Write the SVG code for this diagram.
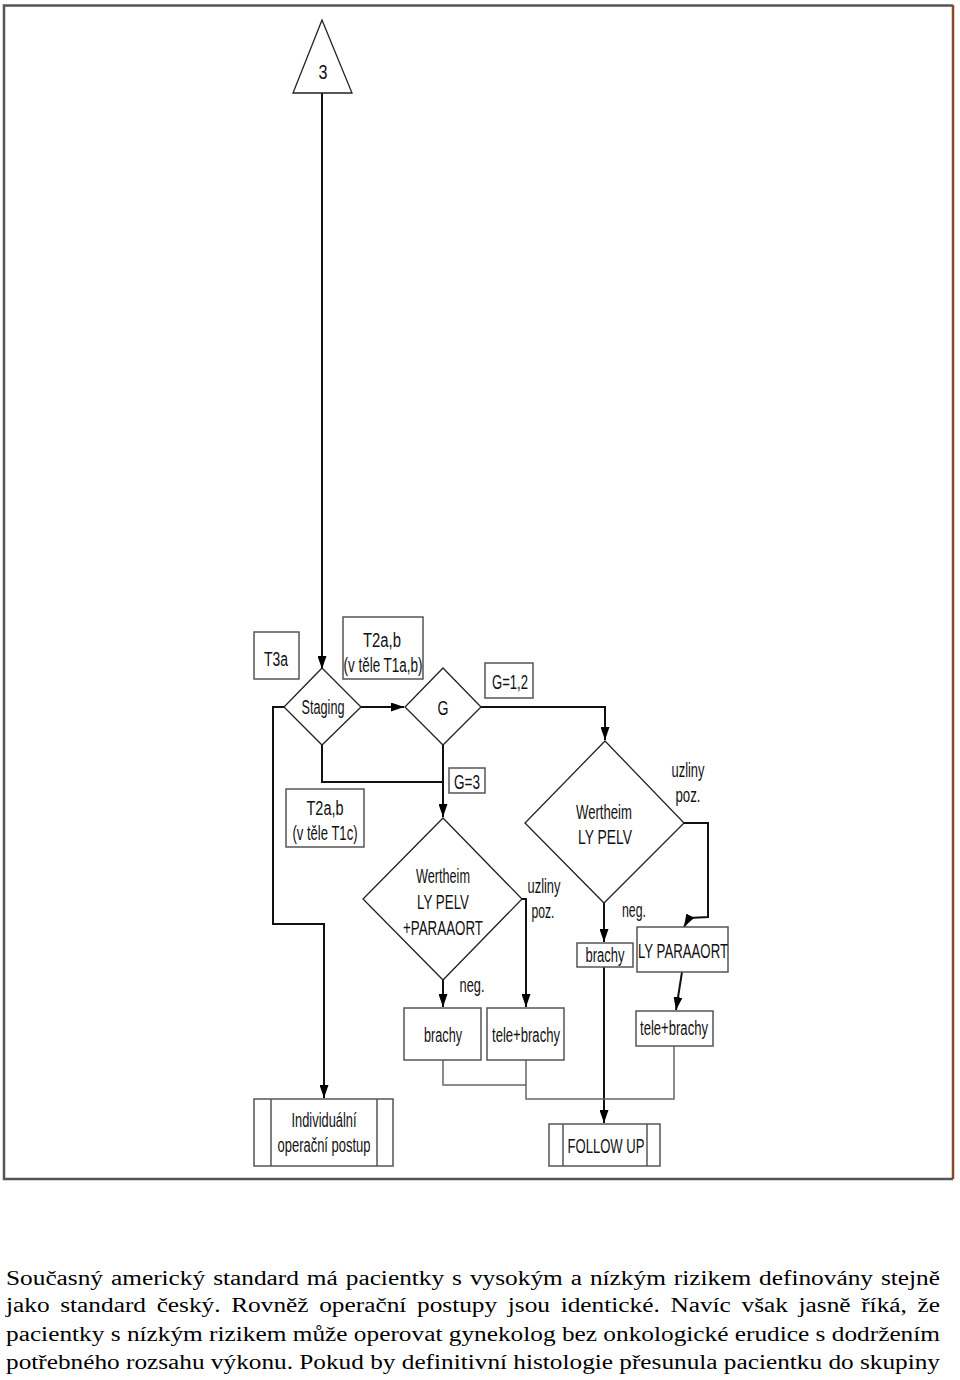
<svg xmlns="http://www.w3.org/2000/svg" width="960" height="1380" viewBox="0 0 960 1380">
<style>
.t{font-family:"Liberation Sans",Arial,sans-serif;font-size:20px;fill:#111;text-anchor:middle}
.p{font-family:"Liberation Serif","Times New Roman",serif;font-size:20px;fill:#000}
.box{fill:#fff;stroke:#555;stroke-width:1.5}
.dia{fill:#fff;stroke:#222;stroke-width:1.3}
.c{fill:none;stroke:#111;stroke-width:2}
.cg{fill:none;stroke:#666;stroke-width:1.5}
</style>
<defs>
<marker id="ah" markerWidth="13" markerHeight="9" refX="13" refY="4.5" orient="auto" markerUnits="userSpaceOnUse">
<path d="M0,0 L13,4.5 L0,9 z" fill="#000"/>
</marker>
</defs>
<rect x="0" y="0" width="960" height="1380" fill="#fff"/>
<g id="frame">
<path d="M953,5.5 H4 V1179 H953" fill="none" stroke="#555" stroke-width="2.5"/>
<line x1="953" y1="5" x2="953" y2="1179" stroke="#8a4a2a" stroke-width="2.5"/>
</g>
<g id="connectors">
<line class="c" x1="322" y1="93" x2="322" y2="669" marker-end="url(#ah)"/>
<line class="c" x1="361" y1="707" x2="404" y2="707" marker-end="url(#ah)"/>
<path class="c" d="M481,707 H605 V740" marker-end="url(#ah)"/>
<path class="c" d="M284,707 H273 V924 H324 V1098" marker-end="url(#ah)"/>
<path class="c" d="M322,745 V782 H443"/>
<line class="c" x1="443" y1="745" x2="443" y2="817" marker-end="url(#ah)"/>
<line class="c" x1="443" y1="980" x2="443" y2="1007" marker-end="url(#ah)"/>
<path class="c" d="M522,899 H526 V1007" marker-end="url(#ah)"/>
<line class="c" x1="604" y1="903" x2="604" y2="942" marker-end="url(#ah)"/>
<line class="c" x1="604" y1="967" x2="604" y2="1123" marker-end="url(#ah)"/>
<path class="c" d="M684,823 H708 V917 L689,918 L684,927" marker-end="url(#ah)"/>
<line class="c" x1="682" y1="972" x2="676" y2="1010" marker-end="url(#ah)"/>
<path class="cg" d="M443,1060 V1085 H526"/>
<path class="cg" d="M526,1060 V1099 H674 V1046"/>
</g>
<g id="n-start">
<polygon class="dia" points="322,20 352,93 293,93"/>
<text class="t" x="323" y="79" textLength="9" lengthAdjust="spacingAndGlyphs">3</text>
</g>
<g id="n-t3a">
<rect class="box" x="254" y="632" width="45" height="47"/>
<text class="t" x="276" y="666" textLength="24" lengthAdjust="spacingAndGlyphs">T3a</text>
</g>
<g id="n-t2ab1">
<rect class="box" x="343" y="617" width="80" height="62"/>
<text class="t" x="382" y="647" textLength="38" lengthAdjust="spacingAndGlyphs">T2a,b</text>
<text class="t" x="383" y="672" textLength="79" lengthAdjust="spacingAndGlyphs">(v těle T1a,b)</text>
</g>
<g id="n-staging">
<polygon class="dia" points="322,668 361,707 322,745 284,707"/>
<text class="t" x="323" y="714" textLength="43" lengthAdjust="spacingAndGlyphs">Staging</text>
</g>
<g id="n-g">
<polygon class="dia" points="443,668 481,707 443,745 405,707"/>
<text class="t" x="443" y="715" textLength="11" lengthAdjust="spacingAndGlyphs">G</text>
</g>
<g id="n-g12">
<rect class="box" x="485" y="663" width="48" height="35"/>
<text class="t" x="510" y="689" textLength="36" lengthAdjust="spacingAndGlyphs">G=1,2</text>
</g>
<g id="n-g3">
<rect class="box" x="449" y="768" width="36" height="25"/>
<text class="t" x="467" y="789" textLength="26" lengthAdjust="spacingAndGlyphs">G=3</text>
</g>
<g id="n-t2ab2">
<rect class="box" x="286" y="789" width="78" height="58"/>
<text class="t" x="325" y="815" textLength="37" lengthAdjust="spacingAndGlyphs">T2a,b</text>
<text class="t" x="325" y="840" textLength="65" lengthAdjust="spacingAndGlyphs">(v těle T1c)</text>
</g>
<g id="n-wert1">
<polygon class="dia" points="443,818 522,899 443,980 363,899"/>
<text class="t" x="443" y="883" textLength="54" lengthAdjust="spacingAndGlyphs">Wertheim</text>
<text class="t" x="443" y="909" textLength="52" lengthAdjust="spacingAndGlyphs">LY PELV</text>
<text class="t" x="443" y="935" textLength="80" lengthAdjust="spacingAndGlyphs">+PARAAORT</text>
</g>
<g id="l-uz1">
<text class="t" x="544" y="893" textLength="33" lengthAdjust="spacingAndGlyphs">uzliny</text>
<text class="t" x="543" y="918" textLength="23" lengthAdjust="spacingAndGlyphs">poz.</text>
</g>
<g id="l-neg1">
<text class="t" x="472" y="992" textLength="25" lengthAdjust="spacingAndGlyphs">neg.</text>
</g>
<g id="n-wert2">
<polygon class="dia" points="605,741 684,823 604,903 525,823"/>
<text class="t" x="604" y="819" textLength="56" lengthAdjust="spacingAndGlyphs">Wertheim</text>
<text class="t" x="605" y="844" textLength="54" lengthAdjust="spacingAndGlyphs">LY PELV</text>
</g>
<g id="l-uz2">
<text class="t" x="688" y="777" textLength="33" lengthAdjust="spacingAndGlyphs">uzliny</text>
<text class="t" x="688" y="802" textLength="25" lengthAdjust="spacingAndGlyphs">poz.</text>
</g>
<g id="l-neg2">
<text class="t" x="634" y="917" textLength="24" lengthAdjust="spacingAndGlyphs">neg.</text>
</g>
<g id="n-brachy2">
<rect class="box" x="577" y="943" width="56" height="24"/>
<text class="t" x="605" y="962" textLength="39" lengthAdjust="spacingAndGlyphs">brachy</text>
</g>
<g id="n-lypara">
<rect class="box" x="637" y="927" width="91" height="45"/>
<text class="t" x="683" y="958" textLength="90" lengthAdjust="spacingAndGlyphs">LY PARAAORT</text>
</g>
<g id="n-tb2">
<rect class="box" x="636" y="1011" width="77" height="35"/>
<text class="t" x="674" y="1035" textLength="68" lengthAdjust="spacingAndGlyphs">tele+brachy</text>
</g>
<g id="n-brachy1">
<rect class="box" x="404" y="1008" width="77" height="52"/>
<text class="t" x="443" y="1042" textLength="38" lengthAdjust="spacingAndGlyphs">brachy</text>
</g>
<g id="n-tb1">
<rect class="box" x="487" y="1008" width="77" height="52"/>
<text class="t" x="526" y="1042" textLength="68" lengthAdjust="spacingAndGlyphs">tele+brachy</text>
</g>
<g id="n-indiv">
<rect class="box" x="254" y="1099" width="139" height="67"/>
<line class="box" x1="271" y1="1099" x2="271" y2="1166"/>
<line class="box" x1="377" y1="1099" x2="377" y2="1166"/>
<text class="t" x="324" y="1127" textLength="65" lengthAdjust="spacingAndGlyphs">Individuální</text>
<text class="t" x="324" y="1152" textLength="93" lengthAdjust="spacingAndGlyphs">operační postup</text>
</g>
<g id="n-follow">
<rect class="box" x="549" y="1124" width="111" height="42"/>
<line class="box" x1="563" y1="1124" x2="563" y2="1166"/>
<line class="box" x1="647" y1="1124" x2="647" y2="1166"/>
<text class="t" x="606" y="1153" textLength="77" lengthAdjust="spacingAndGlyphs">FOLLOW UP</text>
</g>
<g id="paragraph">
<text class="p" x="6" y="1285" word-spacing="1.3" textLength="934" lengthAdjust="spacingAndGlyphs">Současný americký standard má pacientky s vysokým a nízkým rizikem definovány stejně</text>
<text class="p" x="6" y="1312" word-spacing="3.4" textLength="934" lengthAdjust="spacingAndGlyphs">jako standard český. Rovněž operační postupy jsou identické. Navíc však jasně říká, že</text>
<text class="p" x="6" y="1341" textLength="934" lengthAdjust="spacingAndGlyphs">pacientky s nízkým rizikem může operovat gynekolog bez onkologické erudice s dodržením</text>
<text class="p" x="6" y="1369" textLength="934" lengthAdjust="spacingAndGlyphs">potřebného rozsahu výkonu. Pokud by definitivní histologie přesunula pacientku do skupiny</text>
</g>
</svg>
